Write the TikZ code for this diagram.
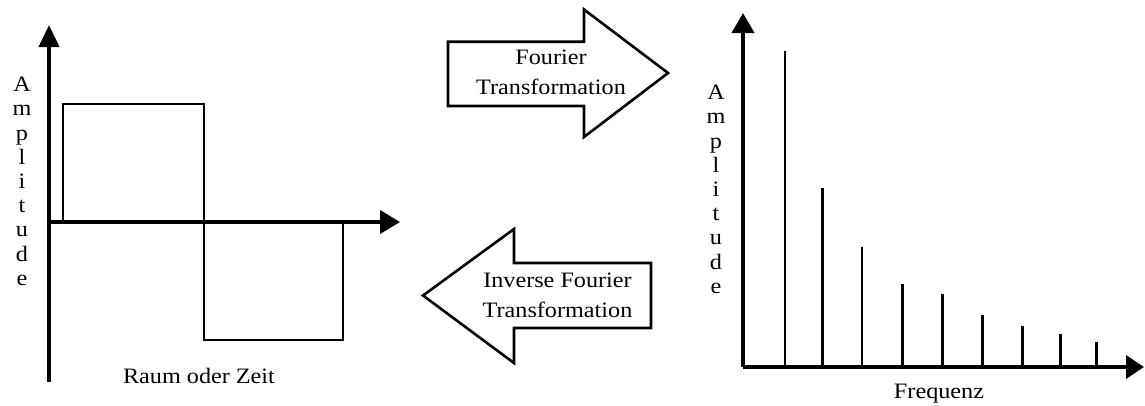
\documentclass[tikz,border=0pt]{standalone}
\usepackage{fontspec}
\setmainfont{Liberation Serif}[FakeStretch=1.1]
\usetikzlibrary{arrows.meta}
\begin{document}
\begin{tikzpicture}[x=1pt,y=-1pt,
  axis/.style={line width=4pt},
  wave/.style={line width=2.2pt, line join=miter},
  spike/.style={line width=2.8pt},
  blockarrow/.style={line width=2.6pt, line join=miter, fill=white},
  lbl/.style={font=\fontsize{22}{30}\selectfont, inner sep=0pt, align=center},
  vlbl/.style={font=\fontsize{22}{24.2}\selectfont, inner sep=0pt, align=center, anchor=north}]
\useasboundingbox[fill=white] (0,0) rectangle (1145,405);

% ---- left plot: square wave ----
\coordinate (lo) at (49,222);
\coordinate (lb) at (49,382);
\coordinate (lt) at (49,25);
\coordinate (lr) at (400,222);
\draw[axis,-{Triangle[length=22pt,width=20pt]}] (lb) -- (lt);
\draw[axis,-{Triangle[length=20pt,width=23pt]}] (lo) -- (lr);
\draw[wave] (63,222) -- (63,104) -- (204,104) -- (204,340) -- (343,340) -- (343,222);
\node[vlbl] (ampL) at (22,77) {A\\m\\p\\l\\i\\t\\u\\d\\e};
\node[lbl, anchor=base] (raum) at (199,383) {Raum oder Zeit};

% ---- block arrows ----
\draw[blockarrow] (448,41.7) -- (584,41.7) -- (584,9.5) -- (668,73) -- (584,137) -- (584,106) -- (448,106) -- cycle;
\node[lbl, anchor=north] (ft) at (551,50) {Fourier\\Transformation};
\draw[blockarrow] (651,263) -- (514,263) -- (514,229) -- (423,295.5) -- (514,363) -- (514,328) -- (651,328) -- cycle;
\node[lbl, anchor=north] (ift) at (557.5,273) {Inverse Fourier\\Transformation};

% ---- right plot: spectrum ----
\coordinate (ro) at (743,367);
\coordinate (rt) at (743,13);
\coordinate (rr) at (1144,367);
\draw[axis,-{Triangle[length=20pt,width=22pt]}] (ro) -- (rt);
\draw[axis,-{Triangle[length=18pt,width=23pt]}] (ro) -- (rr);
\draw[line width=2.2pt] (785,367) -- (785,50.7);
\foreach \x/\t in {822.3/188.3, 862/246.7, 902.7/284.3, 942.3/294.3, 982.7/315, 1022.7/326, 1060.7/334, 1096.7/342.3}
  \draw[spike] (\x,367) -- (\x,\t);
\node[vlbl] (ampR) at (716,85) {A\\m\\p\\l\\i\\t\\u\\d\\e};
\node[lbl, anchor=base] (freq) at (939,398) {Frequenz};
\end{tikzpicture}
\end{document}
